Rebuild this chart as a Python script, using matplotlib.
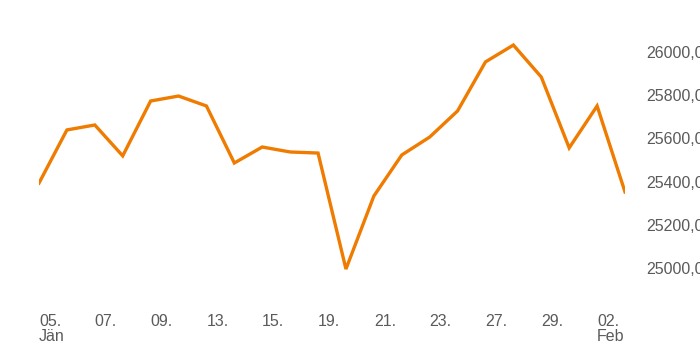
import matplotlib
matplotlib.use("Agg")
import matplotlib.pyplot as plt
from matplotlib.ticker import FuncFormatter

# trading days, 05. Jan - 03. Feb
days = ["05.", "06.", "07.", "08.", "09.", "12.", "13.", "14.", "15.", "16.",
        "19.", "20.", "21.", "22.", "23.", "26.", "27.", "28.", "29.", "30.",
        "02.", "03."]
months = {0: "Jän", 20: "Feb"}
close = [25393, 25639, 25662, 25519, 25773, 25796, 25750, 25486, 25560, 25537,
         25532, 24995, 25333, 25523, 25606, 25727, 25954, 26032, 25884, 25556,
         25750, 25352]
yticks = [25000, 25200, 25400, 25600, 25800, 26000]

plt.rcParams['font.family'] = ['Liberation Sans', 'DejaVu Sans']

fig = plt.figure(figsize=(7, 3.5), dpi=100)
ax = fig.add_axes([39/700, 60/350, 586/700, 270/350])

x = list(range(len(close)))
ax.plot(x, close, color='#EF7B00', linewidth=2.4, solid_joinstyle='miter')

ax.set_xlim(0, len(close) - 1)
ax.set_ylim(24898, 26148)

# x labels every 2nd trading day, month name under the first of the month
xt = list(range(0, len(close), 2))
xl = [days[i] + ("\n" + months[i] if i in months else "") for i in xt]
ax.set_xticks(xt)
ax.set_xticklabels(xl, ha='left', va='top', fontsize=11.5, color='#5a5a5a',
                   linespacing=1.0)

ax.yaxis.tick_right()
ax.set_yticks(yticks)
ax.yaxis.set_major_formatter(FuncFormatter(lambda v, p: f"{v:.2f}".replace(".", ",")))
ax.tick_params(axis='y', labelsize=11.5, labelcolor='#5a5a5a', pad=15, length=0)
ax.tick_params(axis='x', pad=17, length=0)

for s in ax.spines.values():
    s.set_visible(False)

fig.savefig("out.png", dpi=100)
